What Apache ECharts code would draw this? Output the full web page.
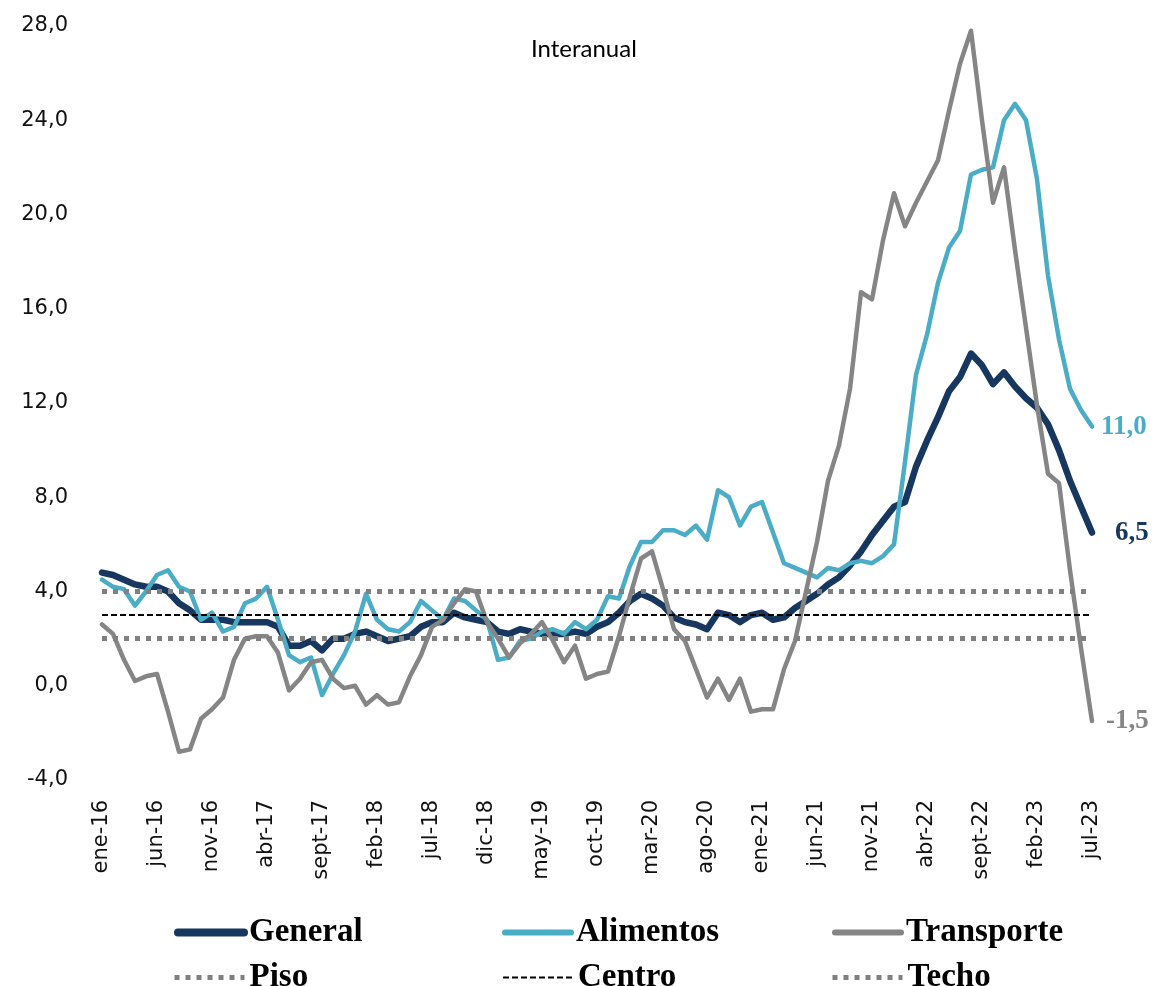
<!DOCTYPE html>
<html>
<head>
<meta charset="utf-8">
<script src="https://cdn.jsdelivr.net/npm/echarts@6/dist/echarts.min.js"></script>
<style>
  html, body { margin: 0; padding: 0; background: #fff; }
  #chart { width: 1153px; height: 986px; }
</style>
</head>
<body>
<div id="chart"></div>
<script>
// meses ene-16 ... jul-23
const meses = ['ene', 'feb', 'mar', 'abr', 'may', 'jun', 'jul', 'ago', 'sept', 'oct', 'nov', 'dic'];
const categories = [];
for (let y = 16; y <= 23; y++) {
  for (let m = 0; m < 12; m++) {
    if (y === 23 && m > 6) break;
    categories.push(meses[m] + '-' + y);
  }
}

// variación interanual (%)
const general = [
  4.8, 4.7, 4.5, 4.3, 4.2, 4.2, 4.0, 3.5, 3.2, 2.8, 2.8, 2.8,
  2.7, 2.7, 2.7, 2.7, 2.5, 1.7, 1.7, 1.9, 1.5, 2.0, 2.0, 2.2,
  2.3, 2.1, 1.9, 2.0, 2.1, 2.5, 2.7, 2.7, 3.1, 2.9, 2.8, 2.7,
  2.3, 2.2, 2.4, 2.3, 2.2, 2.2, 2.2, 2.3, 2.2, 2.5, 2.7, 3.1,
  3.6, 3.9, 3.7, 3.4, 2.9, 2.7, 2.6, 2.4, 3.1, 3.0, 2.7, 3.0,
  3.1, 2.8, 2.9, 3.3, 3.6, 3.9, 4.3, 4.6, 5.1, 5.7, 6.4, 7.0,
  7.6, 7.8, 9.3, 10.4, 11.4, 12.5, 13.1, 14.1, 13.6, 12.8, 13.3, 12.7,
  12.2, 11.8, 11.1, 10.0, 8.7, 7.6, 6.5
];
const alimentos = [
  4.5, 4.2, 4.1, 3.4, 4.0, 4.7, 4.9, 4.2, 4.0, 2.8, 3.1, 2.3,
  2.5, 3.5, 3.7, 4.2, 2.8, 1.3, 1.0, 1.2, -0.4, 0.5, 1.3, 2.3,
  3.9, 2.8, 2.4, 2.3, 2.7, 3.6, 3.2, 2.8, 3.7, 3.6, 3.2, 2.8,
  1.1, 1.2, 1.9, 2.0, 2.3, 2.4, 2.2, 2.7, 2.4, 2.8, 3.8, 3.7,
  5.1, 6.1, 6.1, 6.6, 6.6, 6.4, 6.8, 6.2, 8.3, 8.0, 6.8, 7.6,
  7.8, 6.5, 5.2, 5.0, 4.8, 4.6, 5.0, 4.9, 5.2, 5.3, 5.2, 5.5,
  6.0, 9.5, 13.2, 14.9, 17.1, 18.6, 19.3, 21.7, 21.9, 22.0, 24.0, 24.7,
  24.0, 21.5, 17.4, 14.7, 12.6, 11.7, 11.0
];
const transporte = [
  2.6, 2.2, 1.1, 0.2, 0.4, 0.5, -1.1, -2.8, -2.7, -1.4, -1.0, -0.5,
  1.1, 2.0, 2.1, 2.1, 1.4, -0.2, 0.3, 1.0, 1.1, 0.3, -0.1, 0.0,
  -0.8, -0.4, -0.8, -0.7, 0.4, 1.3, 2.5, 2.8, 3.5, 4.1, 4.0, 2.7,
  2.0, 1.2, 1.8, 2.2, 2.7, 1.9, 1.0, 1.7, 0.3, 0.5, 0.6, 2.1,
  3.8, 5.4, 5.7, 4.1, 2.4, 1.9, 0.7, -0.5, 0.3, -0.6, 0.3, -1.1,
  -1.0, -1.0, 0.7, 1.9, 4.0, 6.1, 8.7, 10.2, 12.6, 16.7, 16.4, 18.9,
  20.9, 19.5, 20.5, 21.4, 22.3, 24.4, 26.4, 27.8, 24.0, 20.5, 22.0, 18.5,
  15.2, 11.9, 9.0, 8.6, 4.9, 1.6, -1.5
];

// rango meta
const piso = 2.0;
const centro = 3.0;
const techo = 4.0;

const fmt = (v) => v.toFixed(1).replace('.', ',');

const chart = echarts.init(document.getElementById('chart'));

const dotted = { color: '#808080', width: 5, type: [5, 6] };
const dashed = { color: '#000000', width: 2, type: [6, 3] };

function endLabel(color, distance) {
  return {
    show: true,
    formatter: (p) => fmt(p.value),
    color: color,
    fontFamily: 'Liberation Serif',
    fontWeight: 'bold',
    fontSize: 27,
    distance: distance,
  };
}

function refLine(name, value, style) {
  return {
    name: name,
    type: 'line',
    data: [],
    symbol: 'none',
    lineStyle: style,
    itemStyle: { color: style.color },
    markLine: {
      silent: true,
      symbol: 'none',
      label: { show: false },
      lineStyle: style,
      data: [{ yAxis: value }],
    },
  };
}

function legendItem(name, left, top, iconWidth, width) {
  return {
    data: [name],
    left: left,
    top: top,
    itemWidth: iconWidth,
    itemHeight: 10,
    selectedMode: false,
    // hide the little symbol in the middle of the line icon
    itemStyle: { color: 'rgba(0,0,0,0)', borderWidth: 0 },
    lineStyle: { width: width },
    textStyle: {
      fontFamily: 'Liberation Serif',
      fontWeight: 'bold',
      fontSize: 33,
      color: '#000',
    },
  };
}

const option = {
  animation: false,
  backgroundColor: '#fff',
  title: {
    text: 'Interanual',
    left: 526,
    top: 32,
    textStyle: {
      fontFamily: 'Lato',
      fontSize: 24,
      fontWeight: 'normal',
      color: '#000',
    },
  },
  legend: [
    legendItem('General', 169, 911, 66, 8),
    legendItem('Alimentos', 497, 911, 66, 6),
    legendItem('Transporte', 827, 911, 66, 6),
    legendItem('Piso', 167, 956, 70, 5),
    legendItem('Centro', 497, 956, 70, 2),
    legendItem('Techo', 825, 956, 70, 5),
  ],
  grid: {
    left: 102,
    right: 61,
    top: 26,
    bottom: 206,
  },
  xAxis: {
    type: 'category',
    boundaryGap: false,
    data: categories,
    axisLine: { show: false },
    axisTick: { show: false },
    splitLine: { show: false },
    axisLabel: {
      interval: 4,
      rotate: 90,
      margin: 20,
      color: '#111',
      fontFamily: 'DejaVu Sans',
      fontSize: 21,
    },
  },
  yAxis: {
    type: 'value',
    min: -4,
    max: 28,
    interval: 4,
    axisLine: { show: false },
    axisTick: { show: false },
    splitLine: { show: false },
    axisLabel: {
      margin: 34,
      color: '#111',
      fontFamily: 'DejaVu Sans',
      fontSize: 21,
      formatter: fmt,
    },
  },
  series: [
    {
      name: 'General',
      type: 'line',
      data: general,
      symbol: 'none',
      lineStyle: { color: '#17375E', width: 6.5, cap: 'round', join: 'round' },
      itemStyle: { color: '#17375E' },
      endLabel: endLabel('#17375E', 23),
    },
    {
      name: 'Alimentos',
      type: 'line',
      data: alimentos,
      symbol: 'none',
      lineStyle: { color: '#4BACC6', width: 4.5, cap: 'round', join: 'round' },
      itemStyle: { color: '#4BACC6' },
      endLabel: endLabel('#4BACC6', 9),
    },
    {
      name: 'Transporte',
      type: 'line',
      data: transporte,
      symbol: 'none',
      lineStyle: { color: '#858585', width: 4.5, cap: 'round', join: 'round' },
      itemStyle: { color: '#858585' },
      endLabel: endLabel('#858585', 14),
    },
    refLine('Piso', piso, dotted),
    refLine('Centro', centro, dashed),
    refLine('Techo', techo, dotted),
  ],
};

chart.setOption(option);
</script>
</body>
</html>
